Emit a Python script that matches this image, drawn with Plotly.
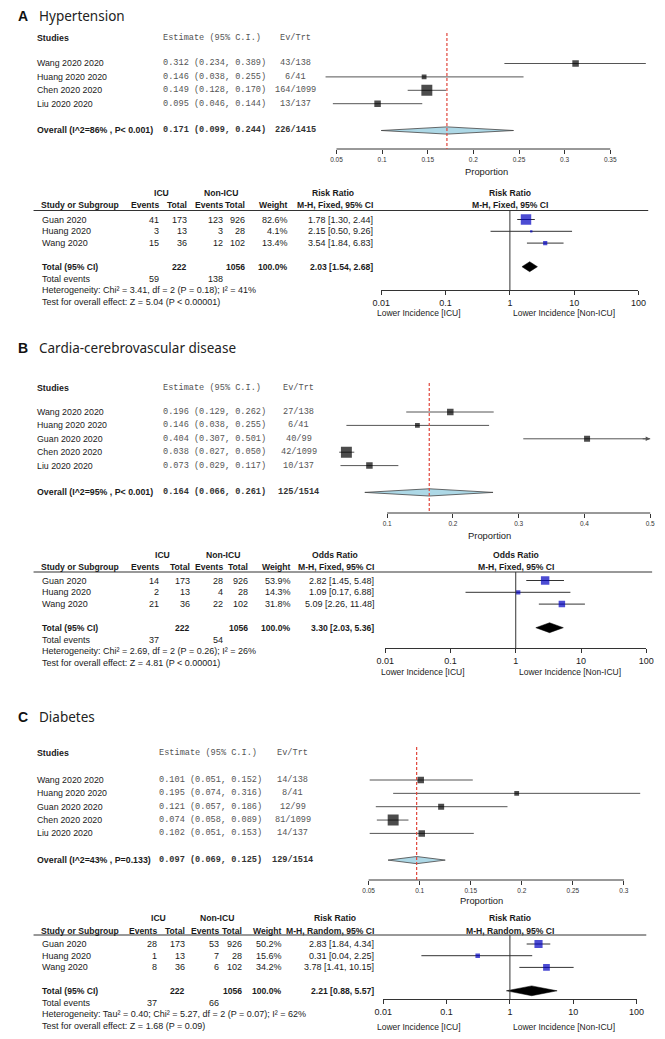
import plotly.graph_objects as go

# page body has an 8px default margin: the figure is drawn 8px in from the window corner
WIN_W, WIN_H, OFF = 665, 1039, 8
FW, FH = WIN_W - OFF, WIN_H - OFF

# ======================= DATA =======================
# ---- Panel A: Hypertension ----
A_title = "Hypertension"
A_studies = ["Wang 2020 2020", "Huang 2020 2020", "Chen 2020 2020", "Liu 2020 2020"]
A_est = [0.312, 0.146, 0.149, 0.095]
A_lo = [0.234, 0.038, 0.128, 0.046]
A_hi = [0.389, 0.255, 0.170, 0.144]
A_ev = [43, 6, 164, 13]
A_n = [138, 41, 1099, 137]
A_overall = [0.171, 0.099, 0.244]
A_overall_label = "Overall (I^2=86% , P&lt; 0.001)"
A_ticks = [0.05, 0.1, 0.15, 0.2, 0.25, 0.3, 0.35]
A_ticklabels = ["0.05", "0.1", "0.15", "0.2", "0.25", "0.3", "0.35"]

A_t_studies = ["Guan 2020", "Huang 2020", "Wang 2020"]
A_t_icu_ev = [41, 3, 15]
A_t_icu_n = [173, 13, 36]
A_t_non_ev = [123, 3, 12]
A_t_non_n = [926, 28, 102]
A_t_weight = [82.6, 4.1, 13.4]
A_t_ratio = [1.78, 2.15, 3.54]
A_t_lo = [1.30, 0.50, 1.84]
A_t_hi = [2.44, 9.26, 6.83]
A_t_total = [2.03, 1.54, 2.68]
A_t_measure = "Risk Ratio"
A_t_method = "M-H, Fixed, 95% CI"
A_t_het = "Heterogeneity: Chi² = 3.41, df = 2 (P = 0.18); I² = 41%"
A_t_test = "Test for overall effect: Z = 5.04 (P &lt; 0.00001)"

# ---- Panel B: Cardia-cerebrovascular disease ----
B_title = "Cardia-cerebrovascular disease"
B_studies = ["Wang 2020 2020", "Huang 2020 2020", "Guan 2020 2020", "Chen 2020 2020", "Liu 2020 2020"]
B_est = [0.196, 0.146, 0.404, 0.038, 0.073]
B_lo = [0.129, 0.038, 0.307, 0.027, 0.029]
B_hi = [0.262, 0.255, 0.501, 0.050, 0.117]
B_ev = [27, 6, 40, 42, 10]
B_n = [138, 41, 99, 1099, 137]
B_overall = [0.164, 0.066, 0.261]
B_overall_label = "Overall (I^2=95% , P&lt; 0.001)"
B_ticks = [0.1, 0.2, 0.3, 0.4, 0.5]
B_ticklabels = ["0.1", "0.2", "0.3", "0.4", "0.5"]

B_t_studies = ["Guan 2020", "Huang 2020", "Wang 2020"]
B_t_icu_ev = [14, 2, 21]
B_t_icu_n = [173, 13, 36]
B_t_non_ev = [28, 4, 22]
B_t_non_n = [926, 28, 102]
B_t_weight = [53.9, 14.3, 31.8]
B_t_ratio = [2.82, 1.09, 5.09]
B_t_lo = [1.45, 0.17, 2.26]
B_t_hi = [5.48, 6.88, 11.48]
B_t_total = [3.30, 2.03, 5.36]
B_t_measure = "Odds Ratio"
B_t_method = "M-H, Fixed, 95% CI"
B_t_het = "Heterogeneity: Chi² = 2.69, df = 2 (P = 0.26); I² = 26%"
B_t_test = "Test for overall effect: Z = 4.81 (P &lt; 0.00001)"

# ---- Panel C: Diabetes ----
C_title = "Diabetes"
C_studies = ["Wang 2020 2020", "Huang 2020 2020", "Guan 2020 2020", "Chen 2020 2020", "Liu 2020 2020"]
C_est = [0.101, 0.195, 0.121, 0.074, 0.102]
C_lo = [0.051, 0.074, 0.057, 0.058, 0.051]
C_hi = [0.152, 0.316, 0.186, 0.089, 0.153]
C_ev = [14, 8, 12, 81, 14]
C_n = [138, 41, 99, 1099, 137]
C_overall = [0.097, 0.069, 0.125]
C_overall_label = "Overall (I^2=43% , P=0.133)"
C_ticks = [0.05, 0.1, 0.15, 0.2, 0.25, 0.3]
C_ticklabels = ["0.05", "0.1", "0.15", "0.2", "0.25", "0.3"]

C_t_studies = ["Guan 2020", "Huang 2020", "Wang 2020"]
C_t_icu_ev = [28, 1, 8]
C_t_icu_n = [173, 13, 36]
C_t_non_ev = [53, 7, 6]
C_t_non_n = [926, 28, 102]
C_t_weight = [50.2, 15.6, 34.2]
C_t_ratio = [2.83, 0.31, 3.78]
C_t_lo = [1.84, 0.04, 1.41]
C_t_hi = [4.34, 2.25, 10.15]
C_t_total = [2.21, 0.88, 5.57]
C_t_measure = "Risk Ratio"
C_t_method = "M-H, Random, 95% CI"
C_t_het = "Heterogeneity: Tau² = 0.40; Chi² = 5.27, df = 2 (P = 0.07); I² = 62%"
C_t_test = "Test for overall effect: Z = 1.68 (P = 0.09)"

RR_ticks = [0.01, 0.1, 1, 10, 100]
RR_ticklabels = ["0.01", "0.1", "1", "10", "100"]
LOWER_LEFT = "Lower Incidence [ICU]"
LOWER_RIGHT = "Lower Incidence [Non-ICU]"

# ======================= LAYOUT (window pixels) =======================
CFG_A = dict(letter="A", title_y=16, clip=None,
             head_y=38, y0=63.5, s=13.4, top=30, red_top=33, axis_y=149, prop_y=171, prop_x=490,
             t0px=336, t1px=617, dom=(316, 660), est_x=157, ev_x=294,
             h1=193, h2=205, line_y=210.5, ty0=219.5, ts=11.8,
             cols=[155, 184, 220, 243, 287, 374], line_x=(25, 656),
             rr_dom=(382, 646), rr_axis_y=290, lower_y=313, lower_x=(421, 570))
CFG_B = dict(letter="B", title_y=348, clip=0.5,
             head_y=388, y0=412, s=13.4, top=380, red_top=383, axis_y=513, prop_y=535, prop_x=493,
             t0px=388, t1px=658, dom=(316, 660), est_x=157, ev_x=297,
             h1=555, h2=567, line_y=572, ty0=580.5, ts=11.8,
             cols=[155, 187, 221, 246, 290, 376], line_x=(25, 660),
             rr_dom=(386, 654), rr_axis_y=648, lower_y=672, lower_x=(425, 576))
CFG_C = dict(letter="C", title_y=717, clip=None,
             head_y=753, y0=780, s=13.35, top=744, red_top=747, axis_y=880, prop_y=900, prop_x=485,
             t0px=369, t1px=631, dom=(340, 660), est_x=153, ev_x=291,
             h1=918, h2=930.5, line_y=935, ty0=944, ts=11.7,
             cols=[153, 181, 216, 240, 281, 376], line_x=(25, 654),
             rr_dom=(384, 644), rr_axis_y=999, lower_y=1027, lower_x=(421, 570))

SANS = "Liberation Sans, Arial, sans-serif"
MONO = "Liberation Mono, Courier New, monospace"
TITLE_FONT = "Noto Sans, Open Sans, sans-serif"
GRAY_TXT = "#555555"
INK = "#1a1a1a"


def X(p):
    return (p - OFF) / FW


def Y(p):
    return 1 - (p - OFF) / FH


fig = go.Figure()
ann = []
shapes = []
axes = {}


def text(x, y, s, size=9, anchor="left", bold=False, family=SANS, color=INK):
    ann.append(dict(x=X(x), y=Y(y), xref="paper", yref="paper",
                    text=(f"<b>{s}</b>" if bold else s), showarrow=False,
                    xanchor=anchor, yanchor="middle", borderpad=0,
                    font=dict(size=size, family=family, color=color)))


def names(k):
    if k == 1:
        return "xaxis", "yaxis", "x", "y"
    return f"xaxis{k}", f"yaxis{k}", f"x{k}", f"y{k}"


def forest(k, c, title, studies, est, lo, hi, ev, n, overall, ov_label, ticks, ticklabels):
    xa, ya, xr, yr = names(k)
    t0, t1 = ticks[0], ticks[-1]
    sc = (t1 - t0) / (c["t1px"] - c["t0px"])
    d0, d1 = c["dom"]
    xrange = [t0 + (d0 - c["t0px"]) * sc, t0 + (d1 - c["t0px"]) * sc]
    y0, s = c["y0"], c["s"]
    yrange = [(c["axis_y"] - y0) / s, (c["top"] - y0) / s]
    axes[xa] = dict(domain=[X(d0), X(d1)], range=xrange, anchor=yr, tickmode="array",
                    tickvals=ticks, ticktext=ticklabels, ticks="outside", ticklen=4,
                    tickwidth=1, tickcolor="#333", showline=False, showgrid=False,
                    zeroline=False, fixedrange=True,
                    tickfont=dict(size=6.5, family=SANS, color="#333"))
    axes[ya] = dict(domain=[Y(c["axis_y"]), Y(c["top"])], range=yrange, anchor=xr,
                    visible=False, fixedrange=True)
    rows = list(range(len(studies)))
    ov_row = len(studies) + 1
    clip = c["clip"]

    lx, ly = [], []
    for i in rows:
        right = hi[i] if clip is None else min(hi[i], clip)
        lx += [lo[i], right, None]
        ly += [i, i, None]
    fig.add_trace(go.Scatter(x=lx, y=ly, mode="lines", line=dict(color="#555", width=1),
                             xaxis=xr, yaxis=yr, hoverinfo="skip", showlegend=False))
    if clip is not None:
        for i in rows:
            if hi[i] > clip:
                ann.append(dict(x=clip, y=i, xref=xr, yref=yr, ax=-9, ay=0, text="",
                                showarrow=True, arrowhead=2, arrowsize=0.9, arrowwidth=1,
                                arrowcolor="#555", standoff=0))
    sizes = [1.9 * v ** 0.25 for v in n]
    fig.add_trace(go.Scatter(x=est, y=rows, mode="markers",
                             marker=dict(symbol="square", size=sizes, color="black",
                                         line=dict(width=0)),
                             xaxis=xr, yaxis=yr, hoverinfo="skip", showlegend=False))
    e, l, h = overall
    hh = 0.27
    fig.add_trace(go.Scatter(x=[l, e, h, e, l], y=[ov_row, ov_row - hh, ov_row, ov_row + hh, ov_row],
                             mode="lines", fill="toself", fillcolor="#ADD8E6",
                             line=dict(color="#444", width=0.8),
                             xaxis=xr, yaxis=yr, hoverinfo="skip", showlegend=False))
    shapes.append(dict(type="line", xref=xr, yref="paper", x0=t0, x1=t1,
                       y0=Y(c["axis_y"]), y1=Y(c["axis_y"]), line=dict(color="#333", width=1)))
    shapes.append(dict(type="line", xref=xr, yref="paper", x0=e, x1=e,
                       y0=Y(c["red_top"]), y1=Y(c["axis_y"]),
                       line=dict(color="#E0453A", width=1.2, dash="3px,2px")))

    # texts
    text(8, c["title_y"], c["letter"], 14, bold=True, color="#111")
    text(30, c["title_y"], title, 13.5, family=TITLE_FONT, color="#222")
    text(27, c["head_y"], "Studies", 8.8, bold=True)
    text(c["est_x"], c["head_y"], "Estimate (95% C.I.)", 8.6, family=MONO, color=GRAY_TXT)
    text(c["ev_x"], c["head_y"], "Ev/Trt", 8.6, anchor="center", family=MONO, color=GRAY_TXT)
    for i in rows:
        yy = y0 + i * s
        text(27, yy, studies[i], 8.8)
        text(c["est_x"], yy, f"{est[i]:.3f} ({lo[i]:.3f}, {hi[i]:.3f})", 8.6, family=MONO, color=GRAY_TXT)
        text(c["ev_x"], yy, f"{ev[i]}/{n[i]}", 8.6, anchor="center", family=MONO, color=GRAY_TXT)
    yy = y0 + ov_row * s
    text(27, yy, ov_label, 8.8, bold=True)
    text(c["est_x"], yy, f"{e:.3f} ({l:.3f}, {h:.3f})", 8.6, bold=True, family=MONO, color="#333")
    text(c["ev_x"], yy, f"{sum(ev)}/{sum(n)}", 8.6, anchor="center", bold=True, family=MONO, color="#333")
    text(c["prop_x"], c["prop_y"], "Proportion", 9.4, anchor="center")


def rr_panel(k, c, studies, ie, inn, ne, nn, wt, ratio, lo, hi, total, measure, method, het, test):
    xa, ya, xr, yr = names(k)
    d0, d1 = c["rr_dom"]
    y0, s = c["ty0"], c["ts"]
    axes[xa] = dict(type="log", domain=[X(d0), X(d1)], range=[-2, 2], anchor=yr,
                    tickmode="array", tickvals=RR_ticks, ticktext=RR_ticklabels,
                    ticks="outside", ticklen=4, tickwidth=1, tickcolor="#333",
                    showline=True, linecolor="#333", linewidth=1, showgrid=False,
                    zeroline=False, fixedrange=True,
                    tickfont=dict(size=9, family=SANS, color=INK))
    axes[ya] = dict(domain=[Y(c["rr_axis_y"]), Y(c["line_y"])],
                    range=[(c["rr_axis_y"] - y0) / s, (c["line_y"] - y0) / s],
                    anchor=xr, visible=False, fixedrange=True)
    rows = list(range(len(studies)))
    tot_row = len(studies) + 1

    shapes.append(dict(type="line", xref=xr, yref="paper", x0=1, x1=1,
                       y0=Y(c["line_y"]), y1=Y(c["rr_axis_y"]), line=dict(color="#333", width=1)))
    shapes.append(dict(type="line", xref="paper", yref="paper", x0=X(c["line_x"][0]),
                       x1=X(c["line_x"][1]), y0=Y(c["line_y"]), y1=Y(c["line_y"]),
                       line=dict(color="#333", width=1)))
    lx, ly = [], []
    for i in rows:
        lx += [lo[i], hi[i], None]
        ly += [i, i, None]
    fig.add_trace(go.Scatter(x=lx, y=ly, mode="lines", line=dict(color="#333", width=1),
                             xaxis=xr, yaxis=yr, hoverinfo="skip", showlegend=False))
    fig.add_trace(go.Scatter(x=ratio, y=rows, mode="markers",
                             marker=dict(symbol="square", size=[1.15 * w ** 0.5 for w in wt],
                                         color="#0000C0", line=dict(width=0)),
                             xaxis=xr, yaxis=yr, hoverinfo="skip", showlegend=False))
    e, l, h = total
    hh = 0.42
    fig.add_trace(go.Scatter(x=[l, e, h, e, l], y=[tot_row, tot_row - hh, tot_row, tot_row + hh, tot_row],
                             mode="lines", fill="toself", fillcolor="black",
                             line=dict(color="black", width=0.5),
                             xaxis=xr, yaxis=yr, hoverinfo="skip", showlegend=False))

    cols = c["cols"]
    xmid = (d0 + d1) / 2
    fs, fb = 9, 8.6
    text((cols[0] - 27 + cols[1]) / 2, c["h1"], "ICU", fb, anchor="center", bold=True)
    text((cols[2] - 29 + cols[3]) / 2, c["h1"], "Non-ICU", fb, anchor="center", bold=True)
    text(cols[5] - 42, c["h1"], measure, fb, anchor="center", bold=True)
    text(xmid, c["h1"], measure, fb, anchor="center", bold=True)
    text(32, c["h2"], "Study or Subgroup", fb, bold=True)
    for j, lab in enumerate(["Events", "Total", "Events", "Total", "Weight"]):
        text(cols[j], c["h2"], lab, fb, anchor="right", bold=True)
    text(cols[5], c["h2"], method, fb, anchor="right", bold=True)
    text(xmid, c["h2"], method, fb, anchor="center", bold=True)
    for i in rows:
        yy = y0 + i * s
        text(33, yy, studies[i], fs)
        vals = [str(ie[i]), str(inn[i]), str(ne[i]), str(nn[i]), f"{wt[i]:.1f}%",
                f"{ratio[i]:.2f} [{lo[i]:.2f}, {hi[i]:.2f}]"]
        for j, v in enumerate(vals):
            text(cols[j], yy, v, fs, anchor="right")
    yy = y0 + tot_row * s
    text(33, yy, "Total (95% CI)", fb, bold=True)
    text(cols[1], yy, str(sum(inn)), fb, anchor="right", bold=True)
    text(cols[3], yy, str(sum(nn)), fb, anchor="right", bold=True)
    text(cols[4], yy, "100.0%", fb, anchor="right", bold=True)
    text(cols[5], yy, f"{e:.2f} [{l:.2f}, {h:.2f}]", fb, anchor="right", bold=True)
    yy = y0 + (tot_row + 1) * s
    text(33, yy, "Total events", fs)
    text(cols[0], yy, str(sum(ie)), fs, anchor="right")
    text(cols[2], yy, str(sum(ne)), fs, anchor="right")
    text(33, y0 + (tot_row + 2) * s, het, fs)
    text(33, y0 + (tot_row + 3) * s, test, fs)
    text(c["lower_x"][0], c["lower_y"], LOWER_LEFT, 8.5, anchor="center")
    text(c["lower_x"][1], c["lower_y"], LOWER_RIGHT, 8.5, anchor="center")


forest(1, CFG_A, A_title, A_studies, A_est, A_lo, A_hi, A_ev, A_n, A_overall, A_overall_label, A_ticks, A_ticklabels)
rr_panel(2, CFG_A, A_t_studies, A_t_icu_ev, A_t_icu_n, A_t_non_ev, A_t_non_n, A_t_weight,
         A_t_ratio, A_t_lo, A_t_hi, A_t_total, A_t_measure, A_t_method, A_t_het, A_t_test)
forest(3, CFG_B, B_title, B_studies, B_est, B_lo, B_hi, B_ev, B_n, B_overall, B_overall_label, B_ticks, B_ticklabels)
rr_panel(4, CFG_B, B_t_studies, B_t_icu_ev, B_t_icu_n, B_t_non_ev, B_t_non_n, B_t_weight,
         B_t_ratio, B_t_lo, B_t_hi, B_t_total, B_t_measure, B_t_method, B_t_het, B_t_test)
forest(5, CFG_C, C_title, C_studies, C_est, C_lo, C_hi, C_ev, C_n, C_overall, C_overall_label, C_ticks, C_ticklabels)
rr_panel(6, CFG_C, C_t_studies, C_t_icu_ev, C_t_icu_n, C_t_non_ev, C_t_non_n, C_t_weight,
         C_t_ratio, C_t_lo, C_t_hi, C_t_total, C_t_measure, C_t_method, C_t_het, C_t_test)

fig.update_layout(width=FW, height=FH, margin=dict(l=0, r=0, t=0, b=0),
                  paper_bgcolor="white", plot_bgcolor="white", showlegend=False,
                  annotations=ann, shapes=shapes, **axes)
fig.write_html("out.html")
